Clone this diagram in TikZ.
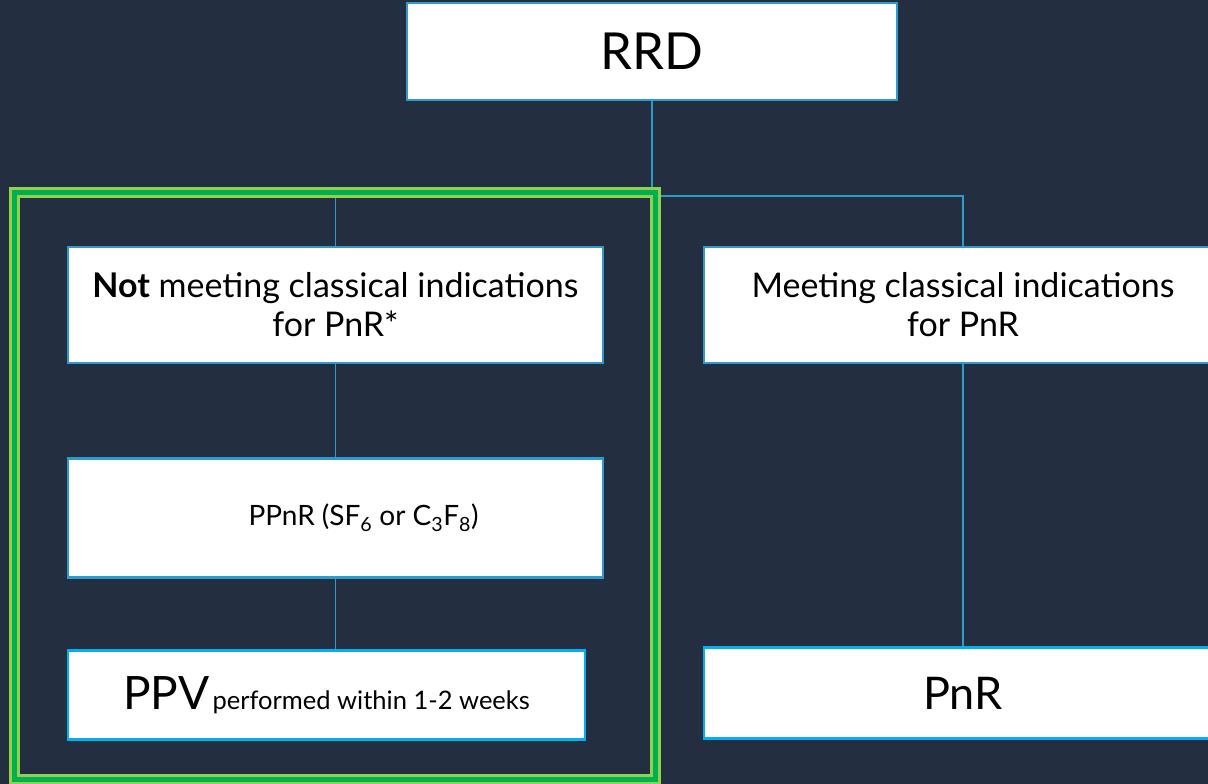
\documentclass[tikz,border=0pt]{standalone}
\usepackage{fontspec}
\setmainfont{Lato}
\definecolor{bgc}{RGB}{35,46,64}
\definecolor{linec}{RGB}{46,155,203}
\definecolor{brightc}{RGB}{0,176,240}
\definecolor{lgreen}{RGB}{146,208,80}
\definecolor{dgreen}{RGB}{0,176,80}
\pgfdeclarelayer{bgzero}
\pgfdeclarelayer{bgone}
\pgfsetlayers{bgzero,bgone,main}
\tikzset{
  boxst/.style={draw=linec, line width=2.5pt, fill=white, text=black, inner sep=0pt, align=center},
  brightbox/.style={boxst, draw=brightc},
  conn/.style={draw=linec, line width=1.5pt},
}
\begin{document}
\begin{tikzpicture}[x=1pt,y=-1pt]
\useasboundingbox (0,0) rectangle (1208,784);
\clip (0,0) rectangle (1208,784);
\node[boxst, minimum width=490pt, minimum height=97pt, font=\fontsize{51}{56}\selectfont] (rrd) at (652,51.5) {RRD};
\node[boxst, minimum width=535pt, minimum height=116pt, font=\fontsize{34}{39}\selectfont] (notbox) at (335.5,305) {\textbf{Not} meeting classical indications\\ for PnR*};
\node[boxst, minimum width=518pt, minimum height=116pt, font=\fontsize{34}{39}\selectfont] (meetbox) at (963,305) {Meeting classical indications\\ for PnR};
\node[boxst, minimum width=535pt, minimum height=119pt, font=\fontsize{28}{34}\selectfont] (ppnr) at (335.5,518) {\hspace*{56pt}PPnR (SF\textsubscript{6} or C\textsubscript{3}F\textsubscript{8})};
\node[brightbox, minimum width=517pt, minimum height=89pt] (ppv) at (326.5,695) {{\fontsize{46}{50}\selectfont PPV}\,\,{\fontsize{25.5}{30}\selectfont performed within 1-2 weeks}};
\node[brightbox, minimum width=518pt, minimum height=91pt, font=\fontsize{45}{50}\selectfont] (pnr) at (963,693) {PnR};
\coordinate (jn) at (652,196);
\begin{pgfonlayer}{bgzero}
\fill[bgc] (0,0) rectangle (1208,784);
\end{pgfonlayer}
\begin{pgfonlayer}{bgone}
\draw[conn] (rrd.south) -- (rrd.south |- jn);
\draw[conn] (notbox.north) -- (notbox.north |- jn) -- (meetbox.north |- jn) -- (meetbox.north);
\draw[conn] (notbox.south) -- (ppnr.north);
\draw[conn] (ppnr.south) -- (ppnr.south |- ppv.north);
\draw[conn] (meetbox.south) -- (pnr.north);
\draw[lgreen, line width=11pt] (14.5,192.5) rectangle (655.5,779.5);
\draw[dgreen, line width=5pt] (14.5,192.5) rectangle (655.5,779.5);
\end{pgfonlayer}
\end{tikzpicture}
\end{document}
